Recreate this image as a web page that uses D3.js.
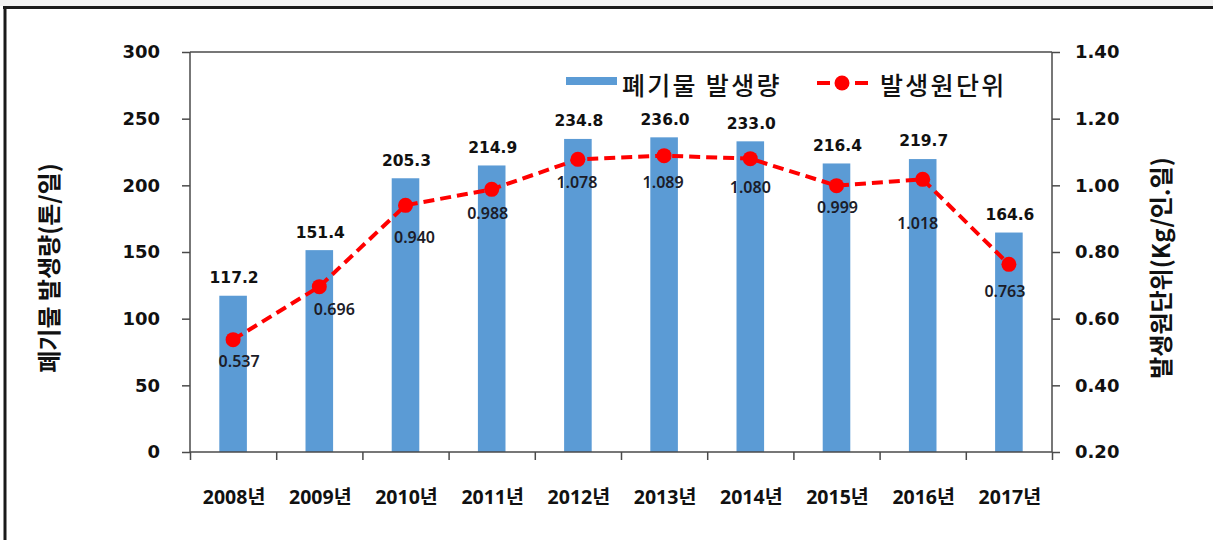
<!DOCTYPE html>
<html>
<head>
<meta charset="utf-8">
<script src="https://cdn.jsdelivr.net/npm/d3@7/dist/d3.min.js"></script>
<style>
  html, body { margin: 0; padding: 0; background: #fff; }
  svg { display: block; }
</style>
</head>
<body>
<svg id="chart" width="1213" height="540"></svg>
<script>
// ---- data ----
const categories = ['2008년','2009년','2010년','2011년','2012년','2013년','2014년','2015년','2016년','2017년'];
const wasteAmount = [117.2, 151.4, 205.3, 214.9, 234.8, 236.0, 233.0, 216.4, 219.7, 164.6];
const unitRate = [0.537, 0.696, 0.940, 0.988, 1.078, 1.089, 1.080, 0.999, 1.018, 0.763];
const leftTicks = [0, 50, 100, 150, 200, 250, 300];
const rightTicks = [0.20, 0.40, 0.60, 0.80, 1.00, 1.20, 1.40];
const seriesNames = ['폐기물 발생량', '발생원단위'];
const leftTitle = '폐기물 발생량(톤/일)';
const rightTitle = '발생원단위(Kg/인.일)';

// label nudges (pixels) for the rate labels, as placed in the original
const rateLabelDx = [6, 15, 9, -4, -1, -1, 0, 1, -5, -4];
const rateLabelDy = [22, 23, 32, 24, 23, 27, 29, 22, 44, 27];

// ---- layout ----
const svg = d3.select('#chart');
const plot = { left: 190, right: 1052, top: 52, bottom: 452 };
const numFont = '"DejaVu Sans", "Noto Sans CJK KR", sans-serif';
const korFont = '"Noto Sans CJK KR", sans-serif';
const axisColor = '#4a4a4a';

const x = d3.scaleBand().domain(categories).range([plot.left, plot.right]).paddingInner(0).paddingOuter(0);
const yL = d3.scaleLinear().domain([0, 300]).range([plot.bottom, plot.top]);
const yR = d3.scaleLinear().domain([0.20, 1.40]).range([plot.bottom, plot.top]);
const barW = x.bandwidth() * 0.32;

// outer frame (top and left lines)
svg.append('rect').attr('x', 0).attr('y', 0).attr('width', 1213).attr('height', 6).attr('fill', '#f2f2f2');
svg.append('line').attr('x1', 3).attr('x2', 1213).attr('y1', 7.5).attr('y2', 7.5)
  .attr('stroke', '#1a1a1a').attr('stroke-width', 3);
svg.append('line').attr('x1', 5).attr('x2', 5).attr('y1', 6).attr('y2', 540)
  .attr('stroke', '#1a1a1a').attr('stroke-width', 3);

// bars
svg.append('g').selectAll('rect').data(wasteAmount).join('rect')
  .attr('x', (d, i) => x(categories[i]) + x.bandwidth() / 2 - barW / 2)
  .attr('y', d => yL(d))
  .attr('width', barW)
  .attr('height', d => yL(0) - yL(d))
  .attr('fill', '#5B9BD5');

// plot frame: top line
svg.append('line').attr('x1', plot.left).attr('x2', plot.right)
  .attr('y1', plot.top).attr('y2', plot.top).attr('stroke', axisColor).attr('stroke-width', 1.5);

// axes
const gL = svg.append('g').attr('transform', `translate(${plot.left},0)`)
  .call(d3.axisLeft(yL).tickValues(leftTicks).tickSize(8).tickPadding(22).tickFormat(d3.format('d')));
const gR = svg.append('g').attr('transform', `translate(${plot.right},0)`)
  .call(d3.axisRight(yR).tickValues(rightTicks).tickSize(8).tickPadding(15).tickFormat(d3.format('.2f')));
const xTickScale = d3.scaleLinear().domain([0, categories.length]).range([plot.left, plot.right]);
const gX = svg.append('g').attr('transform', `translate(0,${plot.bottom})`)
  .call(d3.axisBottom(xTickScale).tickValues(d3.range(categories.length + 1)).tickSize(8).tickFormat(''));

[gL, gR, gX].forEach(g => {
  g.select('.domain').attr('stroke', axisColor).attr('stroke-width', 1.5);
  g.selectAll('.tick line').attr('stroke', axisColor).attr('stroke-width', 1.5);
});
gX.select('.domain').attr('d', `M${plot.left},0H${plot.right}`);
gL.select('.domain').attr('d', `M0,${plot.top}V${plot.bottom}`);
gR.select('.domain').attr('d', `M0,${plot.top}V${plot.bottom}`);
[gL, gR].forEach(g => g.selectAll('.tick text')
  .attr('font-family', numFont).attr('font-weight', 'bold').attr('font-size', 18).attr('fill', '#111'));

// x category labels
svg.append('g').selectAll('text').data(categories).join('text')
  .attr('x', d => x(d) + x.bandwidth() / 2 + 1)
  .attr('y', 497)
  .attr('dy', '0.35em')
  .attr('text-anchor', 'middle')
  .attr('font-family', '"Noto Sans", "Noto Sans CJK KR", sans-serif')
  .attr('font-weight', 'bold')
  .attr('font-size', 19.5)
  .attr('fill', '#111')
  .text(d => d);

// bar value labels
svg.append('g').selectAll('text').data(wasteAmount).join('text')
  .attr('x', (d, i) => x(categories[i]) + x.bandwidth() / 2 + 1)
  .attr('y', d => yL(d) - 18)
  .attr('dy', '0.35em')
  .attr('text-anchor', 'middle')
  .attr('font-family', numFont)
  .attr('font-weight', 'bold')
  .attr('font-size', 15.5)
  .attr('fill', '#111')
  .text(d => d.toFixed(1));

// line
const cx = i => x(categories[i]) + x.bandwidth() / 2;
const line = d3.line().x((d, i) => cx(i)).y(d => yR(d));
svg.append('path').datum(unitRate)
  .attr('d', line)
  .attr('fill', 'none')
  .attr('stroke', '#FF0000')
  .attr('stroke-width', 4)
  .attr('stroke-dasharray', '11,6');
svg.append('g').selectAll('circle').data(unitRate).join('circle')
  .attr('cx', (d, i) => cx(i))
  .attr('cy', d => yR(d))
  .attr('r', 7.5)
  .attr('fill', '#FF0000');

// rate labels
svg.append('g').selectAll('text').data(unitRate).join('text')
  .attr('x', (d, i) => cx(i) + rateLabelDx[i])
  .attr('y', (d, i) => yR(d) + rateLabelDy[i])
  .attr('dy', '0.35em')
  .attr('text-anchor', 'middle')
  .attr('font-family', '"Noto Sans", sans-serif')
  .attr('font-weight', 600)
  .attr('font-size', 16)
  .attr('fill', '#1c1c28')
  .text(d => d.toFixed(3));

// legend
const lg = svg.append('g');
lg.append('rect').attr('x', 566).attr('y', 77).attr('width', 51).attr('height', 8).attr('fill', '#5B9BD5');
lg.append('text').attr('x', 622).attr('y', 86).attr('dy', '0.35em')
  .attr('font-family', korFont).attr('font-size', 25).attr('font-weight', 500)
  .attr('letter-spacing', 2.3).attr('fill', '#111')
  .text(seriesNames[0]);
lg.append('line').attr('x1', 817).attr('x2', 868).attr('y1', 83).attr('y2', 83)
  .attr('stroke', '#FF0000').attr('stroke-width', 4).attr('stroke-dasharray', '13,25');
lg.append('circle').attr('cx', 842).attr('cy', 83).attr('r', 7.5).attr('fill', '#FF0000');
lg.append('text').attr('x', 880).attr('y', 86).attr('dy', '0.35em')
  .attr('font-family', korFont).attr('font-size', 25).attr('font-weight', 500)
  .attr('letter-spacing', 2.3).attr('fill', '#111')
  .text(seriesNames[1]);

// axis titles
svg.append('text')
  .attr('transform', 'translate(50,268) rotate(-90)')
  .attr('text-anchor', 'middle').attr('dy', '0.35em')
  .attr('font-family', korFont).attr('font-weight', 'bold').attr('font-size', 24).attr('fill', '#111')
  .text(leftTitle);
svg.append('text')
  .attr('transform', 'translate(1162,268) rotate(-90)')
  .attr('text-anchor', 'middle').attr('dy', '0.35em')
  .attr('font-family', korFont).attr('font-weight', 'bold').attr('font-size', 24).attr('fill', '#111')
  .text(rightTitle);
</script>
</body>
</html>
